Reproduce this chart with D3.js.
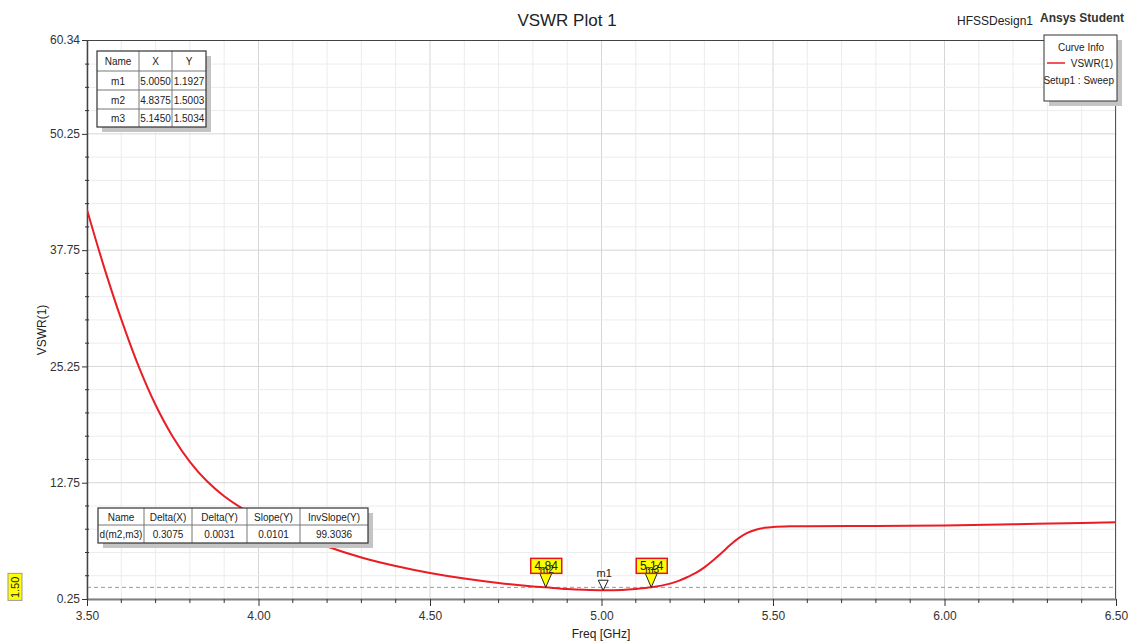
<!DOCTYPE html>
<html><head><meta charset="utf-8">
<script src="https://cdn.jsdelivr.net/npm/d3@7"></script>
<style>body{margin:0;background:#fff;} svg text{font-family:"Liberation Sans",Arial,sans-serif;}</style>
</head><body><svg id="c" width="1130" height="643"></svg>
<script>
// ---------- data ----------
const freq = [3.50,3.55,3.60,3.65,3.70,3.75,3.80,3.85,3.90,3.95,4.00,4.10,4.20,4.30,4.40,4.50,4.60,4.70,4.80,4.8375,4.90,4.95,5.005,5.06,5.10,5.145,5.20,5.225,5.25,5.275,5.30,5.325,5.35,5.375,5.40,5.425,5.45,5.475,5.50,5.55,5.60,5.80,6.00,6.20,6.40,6.50];
const vswr = [42.1,35.9,30.3,25.3,21.1,17.7,15.0,12.9,11.3,10.05,9.05,7.35,5.9,4.72,3.8,3.05,2.45,1.97,1.6,1.5003,1.33,1.24,1.1927,1.23,1.33,1.5034,1.9,2.2,2.6,3.05,3.65,4.4,5.2,6.05,6.8,7.35,7.7,7.9,8.0,8.07,8.08,8.1,8.15,8.28,8.42,8.49];

const xTickValues = [3.5,4.0,4.5,5.0,5.5,6.0,6.5];
const xTickLabels = ["3.50","4.00","4.50","5.00","5.50","6.00","6.50"];
const yTickValues = [0.25,12.75,25.25,37.75,50.25,60.34];
const yTickLabels = ["0.25","12.75","25.25","37.75","50.25","60.34"];

const markerNames = ["m1","m2","m3"];
const markerX = [5.0050,4.8375,5.1450];
const markerY = [1.1927,1.5003,1.5034];
const markerXText = ["5.0050","4.8375","5.1450"];
const markerYText = ["1.1927","1.5003","1.5034"];
const markerTags = ["", "4.84", "5.14"];

const deltaHeaders = ["Name","Delta(X)","Delta(Y)","Slope(Y)","InvSlope(Y)"];
const deltaRow = ["d(m2,m3)","0.3075","0.0031","0.0101","99.3036"];
const refLineValue = 1.50;
const refLineLabel = "1.50";

// ---------- layout ----------
const L = 87, R = 1116, T = 40, B = 599;
const svg = d3.select("#c");
const x = d3.scaleLinear().domain([3.5, 6.5]).range([L, R]);
const y = d3.scaleLinear().domain([0.25, 60.34]).range([B, T]);

// minor grid
const xMinor = d3.range(0, 31).map(i => 3.5 + i * 0.1);
const yMinor = d3.range(0, 24).map(i => 0.25 + i * 2.5);
const g = svg.append("g");
g.selectAll(".vx").data(xMinor).join("line")
  .attr("x1", d => x(d)).attr("x2", d => x(d)).attr("y1", T).attr("y2", B)
  .attr("stroke", (d,i) => i % 5 === 0 ? "#d6d6d6" : "#ececec").attr("stroke-width", 1);
g.selectAll(".hy").data(yMinor).join("line")
  .attr("x1", L).attr("x2", R).attr("y1", d => y(d)).attr("y2", d => y(d))
  .attr("stroke", (d,i) => i % 5 === 0 ? "#d6d6d6" : "#ececec").attr("stroke-width", 1);

// reference dashed line
svg.append("line").attr("x1", L).attr("x2", R).attr("y1", y(refLineValue)).attr("y2", y(refLineValue))
  .attr("stroke", "#999").attr("stroke-dasharray", "4,3").attr("stroke-width", 1);

// frame
svg.append("line").attr("x1", L).attr("x2", R).attr("y1", T + 0.5).attr("y2", T + 0.5).attr("stroke", "#444");
svg.append("line").attr("x1", R - 0.5).attr("x2", R - 0.5).attr("y1", T).attr("y2", B).attr("stroke", "#555");

// axes
const xAxis = d3.axisBottom(x).tickValues(xTickValues).tickFormat((d,i) => xTickLabels[i]).tickSize(7).tickSizeOuter(0);
const xAx = svg.append("g").attr("transform", `translate(0,${B})`).call(xAxis);
xAx.select(".domain").attr("stroke", "#808080").attr("stroke-width", 2);
xAx.selectAll(".tick line").attr("stroke", "#333");
xAx.selectAll("text").attr("font-size", 12).attr("fill", "#333").attr("dy", "0.9em");
svg.append("g").attr("transform", `translate(0,${B})`)
  .selectAll("line").data(xMinor.filter((d,i) => i % 5 !== 0)).join("line")
  .attr("x1", d => x(d)).attr("x2", d => x(d)).attr("y1", 0).attr("y2", 4).attr("stroke", "#333");

const yAxis = d3.axisLeft(y).tickValues(yTickValues).tickFormat((d,i) => yTickLabels[i]).tickSize(5).tickSizeOuter(0);
const yAx = svg.append("g").attr("transform", `translate(${L},0)`).call(yAxis);
yAx.select(".domain").attr("stroke", "#444").attr("stroke-width", 1.5);
yAx.selectAll(".tick line").attr("stroke", "#333");
yAx.selectAll("text").attr("font-size", 12).attr("fill", "#333").attr("x", -7);
svg.append("g").attr("transform", `translate(${L},0)`)
  .selectAll("line").data(yMinor.filter((d,i) => i % 5 !== 0)).join("line")
  .attr("x1", -2).attr("x2", 2).attr("y1", d => y(d)).attr("y2", d => y(d)).attr("stroke", "#333");

// curve
svg.append("clipPath").attr("id", "clip").append("rect").attr("x", L).attr("y", T).attr("width", R - L).attr("height", B - T);
const pts = freq.map((f, i) => [f, vswr[i]]);
const line = d3.line().x(d => x(d[0])).y(d => y(d[1])).curve(d3.curveCatmullRom.alpha(0.5));
svg.append("path").attr("d", line(pts)).attr("fill", "none").attr("stroke", "#ea1c24").attr("stroke-width", 2)
  .attr("clip-path", "url(#clip)");

// markers
markerNames.forEach((name, i) => {
  const mx = x(markerX[i]), my = y(markerY[i]);
  if (i === 0) {
    svg.append("path").attr("d", `M${mx},${my} L${mx-5},${my-10} L${mx+5},${my-10} Z`)
      .attr("fill", "#fff").attr("stroke", "#222").attr("stroke-width", 1);
    svg.append("text").attr("x", mx + 1).attr("y", my - 13).attr("text-anchor", "middle")
      .attr("font-size", 11).attr("fill", "#222").text(name);
  } else {
    svg.append("path").attr("d", `M${mx},${my} L${mx-6},${my-14} L${mx+6},${my-14} Z`)
      .attr("fill", "#ffff00").attr("stroke", "#222").attr("stroke-width", 1);
    svg.append("rect").attr("x", mx - 15).attr("y", my - 29).attr("width", 31).attr("height", 15)
      .attr("fill", "#ffff00").attr("stroke", "#e8141c").attr("stroke-width", 1.5);
    svg.append("text").attr("x", mx + 0.5).attr("y", my - 17.5).attr("text-anchor", "middle")
      .attr("font-size", 12).attr("fill", "#222").text(markerTags[i]);
    svg.append("text").attr("x", mx + 1).attr("y", my - 14).attr("text-anchor", "middle")
      .attr("font-size", 10).attr("fill", "#222").text(name);
  }
});

// reference label on left
const ry = y(refLineValue);
svg.append("rect").attr("x", 8).attr("y", ry - 14).attr("width", 14).attr("height", 27)
  .attr("fill", "#ffff00").attr("stroke", "#999");
svg.append("text").attr("transform", `translate(19,${ry}) rotate(-90)`).attr("text-anchor", "middle")
  .attr("font-size", 11).attr("fill", "#222").text(refLineLabel);

// table helper
function drawTable(x0, y0, colW, rowH, rows) {
  const W = d3.sum(colW), H = d3.sum(rowH);
  svg.append("rect").attr("x", x0 + 5).attr("y", y0 + 5).attr("width", W).attr("height", H).attr("fill", "#c4c4c4");
  svg.append("rect").attr("x", x0).attr("y", y0).attr("width", W).attr("height", H).attr("fill", "#fff");
  let cx = x0;
  colW.forEach((w, ci) => {
    if (ci > 0) svg.append("line").attr("x1", cx).attr("x2", cx).attr("y1", y0).attr("y2", y0 + H).attr("stroke", "#777");
    cx += w;
  });
  let cy = y0;
  rowH.forEach((h, ri) => {
    if (ri > 0) svg.append("line").attr("x1", x0).attr("x2", x0 + W).attr("y1", cy).attr("y2", cy).attr("stroke", "#777");
    let cx2 = x0;
    rows[ri].forEach((t, ci) => {
      svg.append("text").attr("x", cx2 + colW[ci] / 2).attr("y", cy + h / 2 + 4).attr("text-anchor", "middle")
        .attr("font-size", 10).attr("fill", "#222").text(t);
      cx2 += colW[ci];
    });
    cy += h;
  });
  svg.append("rect").attr("x", x0).attr("y", y0).attr("width", W).attr("height", H).attr("fill", "none")
    .attr("stroke", "#333").attr("stroke-width", 1.2);
}

drawTable(97, 51, [42, 33, 34], [20, 19, 19, 18],
  [["Name","X","Y"]].concat(markerNames.map((n, i) => [n, markerXText[i], markerYText[i]])));
drawTable(98, 508, [46, 48, 55, 53, 68], [17, 18], [deltaHeaders, deltaRow]);

// legend
svg.append("rect").attr("x", 1049).attr("y", 40).attr("width", 73).attr("height", 66).attr("fill", "#c4c4c4");
svg.append("rect").attr("x", 1044).attr("y", 35).attr("width", 73).attr("height", 66).attr("fill", "#fff")
  .attr("stroke", "#333").attr("stroke-width", 1);
svg.append("text").attr("x", 1081).attr("y", 51).attr("text-anchor", "middle").attr("font-size", 10).attr("fill", "#222").text("Curve Info");
svg.append("line").attr("x1", 1047).attr("x2", 1065).attr("y1", 63).attr("y2", 63).attr("stroke", "#ea1c24").attr("stroke-width", 1.5);
svg.append("text").attr("x", 1113).attr("y", 67).attr("text-anchor", "end").attr("font-size", 10).attr("fill", "#222").text("VSWR(1)");
svg.append("text").attr("x", 1114).attr("y", 84).attr("text-anchor", "end").attr("font-size", 10).attr("fill", "#222").text("Setup1 : Sweep");

// titles
svg.append("text").attr("x", 567).attr("y", 26).attr("text-anchor", "middle").attr("font-size", 17).attr("fill", "#222").text("VSWR Plot 1");
svg.append("text").attr("x", 1033).attr("y", 25).attr("text-anchor", "end").attr("font-size", 12).attr("fill", "#222").text("HFSSDesign1");
svg.append("text").attr("x", 1124).attr("y", 22).attr("text-anchor", "end").attr("font-size", 12).attr("font-weight", "bold").attr("fill", "#333").text("Ansys Student");

// axis titles
svg.append("text").attr("x", 601).attr("y", 638).attr("text-anchor", "middle").attr("font-size", 12).attr("fill", "#222").text("Freq [GHz]");
svg.append("text").attr("transform", "translate(46,330) rotate(-90)").attr("text-anchor", "middle").attr("font-size", 12).attr("fill", "#222").text("VSWR(1)");
</script></body></html>
